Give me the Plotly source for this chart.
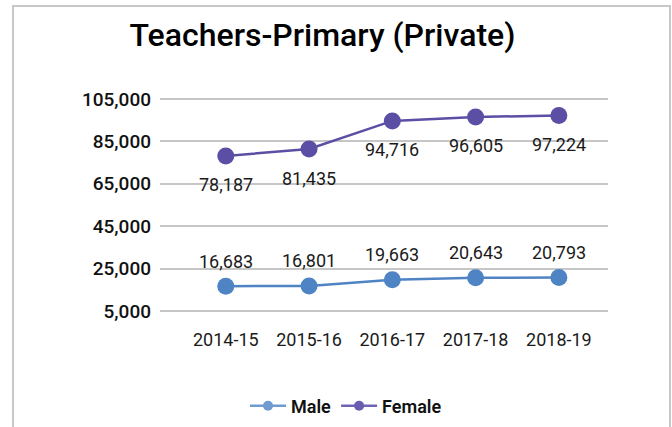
import plotly.graph_objects as go

years = ["2014-15", "2015-16", "2016-17", "2017-18", "2018-19"]
male = [16683, 16801, 19663, 20643, 20793]
female = [78187, 81435, 94716, 96605, 97224]
y_ticks = [5000, 25000, 45000, 65000, 85000, 105000]

MALE_C = "#4f84c4"
FEMALE_C = "#5a4fa5"
FONT = "Roboto"

x_idx = list(range(len(years)))

fig = go.Figure()
fig.add_trace(go.Scatter(x=x_idx, y=male, name="Male", mode="lines+markers",
                         line=dict(color=MALE_C, width=2.5), showlegend=False,
                         marker=dict(size=17, color=MALE_C)))
fig.add_trace(go.Scatter(x=x_idx, y=female, name="Female", mode="lines+markers",
                         line=dict(color=FEMALE_C, width=2.5), showlegend=False,
                         marker=dict(size=17, color=FEMALE_C)))
# legend entries with smaller symbols
fig.add_trace(go.Scatter(x=[None], y=[None], name="Male", mode="lines+markers",
                         line=dict(color="#6f9bd0", width=2.5),
                         marker=dict(size=10, color="#6f9bd0")))
fig.add_trace(go.Scatter(x=[None], y=[None], name="Female", mode="lines+markers",
                         line=dict(color="#7264b4", width=2.5),
                         marker=dict(size=10, color="#6a5cae")))

annotations = []
for i, v in enumerate(male):
    annotations.append(dict(x=i, y=v, text=f"{v:,}", showarrow=False, yshift=25,
                            font=dict(family=FONT, size=18, color="#1a1a1a")))
for i, v in enumerate(female):
    annotations.append(dict(x=i, y=v, text=f"{v:,}", showarrow=False, yshift=-29,
                            font=dict(family=FONT, size=18, color="#1a1a1a")))

W, H = 672, 427
L, R = 160, 608
T, B = 99 - 2, 311 + 2


def px(x):
    return (x - L) / (R - L)


def py(y):
    return (B - y) / (B - T)


fig.update_layout(
    width=W, height=H,
    margin=dict(l=L, r=W - R, t=T, b=H - B, autoexpand=False),
    paper_bgcolor="white", plot_bgcolor="white",
    font=dict(family=FONT, color="#000"),
    title=dict(text="Teachers-Primary (Private)", xref="container",
               x=322.5 / W, xanchor="center", yref="container",
               y=1 - 35 / H, yanchor="middle",
               font=dict(family=FONT, size=32, color="#000", weight=500)),
    xaxis=dict(tickmode="array", tickvals=x_idx, ticktext=years,
               range=[-0.79, 4.59], showgrid=False, zeroline=False, showline=False,
               ticks="", tickfont=dict(family=FONT, size=18, color="#1a1a1a"),
               ticklabelstandoff=14),
    yaxis=dict(range=[4000, 106000], tickvals=y_ticks, tickformat=",d",
               showgrid=True, gridcolor="#c6c6c6", gridwidth=2,
               zeroline=False, showline=False, ticks="",
               tickfont=dict(family=FONT, size=19, color="#111", weight=500),
               ticklabelstandoff=8),
    legend=dict(orientation="h", x=px(346), xanchor="center", y=py(406), yanchor="middle",
                font=dict(family=FONT, size=18, color="#111", weight=600),
                itemwidth=36, traceorder="normal", tracegroupgap=0),
    showlegend=True,
    annotations=annotations,
    shapes=[dict(type="rect", xref="paper", yref="paper",
                 x0=px(13), x1=px(670), y0=py(520), y1=py(6),
                 line=dict(color="#c8c8c8", width=2), layer="below")],
)

fig.write_html("out.html", config={"displayModeBar": False},
               post_script="document.body.style.margin='0';document.body.style.overflow='hidden';")
